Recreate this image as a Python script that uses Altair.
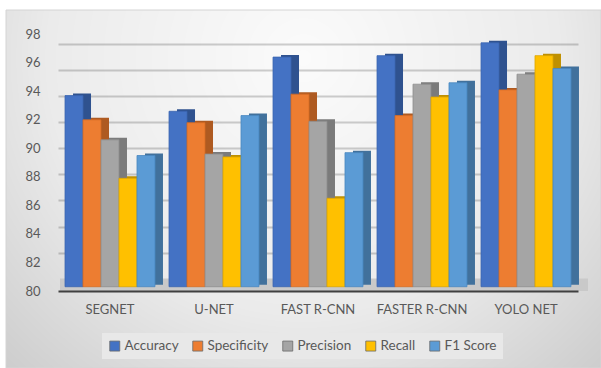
import altair as alt
import pandas as pd

# Models compared and the five evaluation metrics
models = ["SEGNET", "U-NET", "FAST R-CNN", "FASTER R-CNN", "YOLO NET"]
metrics = ["Accuracy", "Specificity", "Precision", "Recall", "F1 Score"]

# Scores (%) per metric, in the order of `models`
accuracy = [93.7, 92.6, 96.4, 96.5, 97.4]
specificity = [92.0, 91.8, 93.8, 92.3, 94.1]
precision = [90.6, 89.6, 91.9, 94.5, 95.2]
recall = [87.9, 89.4, 86.5, 93.6, 96.5]
f1_score = [89.5, 92.3, 89.7, 94.6, 95.6]

y_ticks = [80, 82, 84, 86, 88, 90, 92, 94, 96, 98]
grid_levels = [82, 84, 86, 88, 90, 92, 94, 96, 98]

face_colors = ["#4472C4", "#ED7D31", "#A5A5A5", "#FFC000", "#5B9BD5"]
edge_colors = ["#3A64B0", "#D56C24", "#8E8E8E", "#DDA600", "#4A88C0"]
side_colors = ["#2F528F", "#AE5A21", "#7B7B7B", "#BF9000", "#41719C"]

series = dict(zip(metrics, [accuracy, specificity, precision, recall, f1_score]))
side_of = dict(zip(metrics, side_colors))
edge_of = dict(zip(metrics, edge_colors))
rows = [
    {"model": m, "metric": k, "score": vals[i],
     "side": side_of[k], "edge": edge_of[k]}
    for k, vals in series.items()
    for i, m in enumerate(models)
]
df = pd.DataFrame(rows)

W, H = 520, 271
DEPTH_X, DEPTH_Y = 8, 2
BAR_BASE = 80.3          # columns stand a little behind the floor's front edge
FONT = "Lato"
TEXT = "#595959"
GRID = "#d0d0d0"

band = dict(paddingInner=0.135, paddingOuter=0.0675)
x_off = alt.XOffset("metric:N", sort=metrics)

# Chart-area shading: a translucent radial vignette over the white page
backdrop = alt.Chart(pd.DataFrame({"k": [0]})).mark_rect(
    fill={
        "gradient": "radial",
        "x1": 0.5, "y1": 0.28, "r1": 0.0,
        "x2": 0.5, "y2": 0.28, "r2": 0.78,
        "stops": [
            {"offset": 0.0, "color": "rgba(0,0,0,0.015)"},
            {"offset": 0.55, "color": "rgba(0,0,0,0.08)"},
            {"offset": 1.0, "color": "rgba(0,0,0,0.22)"},
        ],
    },
    stroke="#d4d4d4",
    strokeWidth=1,
).encode(
    x=alt.value(-52), x2=alt.value(543),
    y=alt.value(-10), y2=alt.value(348),
)

# Back wall: floor plus gridlines on a scale set slightly back in depth
back_domain = [79.04, 99.88]
floor = alt.Chart(pd.DataFrame({"lo": [79.04], "hi": [80]})).mark_rect(
    color="#c9c9c9"
).encode(
    x=alt.value(2), x2=alt.value(530),
    y=alt.Y(
        "hi:Q",
        scale=alt.Scale(domain=back_domain, nice=False, zero=False),
        axis=alt.Axis(
            orient="left", title=None, values=grid_levels, labels=False,
            ticks=False, domain=False, grid=True,
            gridColor=GRID, gridWidth=2,
        ),
    ),
    y2="lo:Q",
)

# Column side faces: same bars on scales shifted back-right by the depth
sides = alt.Chart(df).mark_bar().encode(
    x=alt.X("model:N", sort=models, axis=None,
            scale=alt.Scale(range=[DEPTH_X, W + DEPTH_X], **band)),
    xOffset=x_off,
    y=alt.Y("score:Q", axis=None,
            scale=alt.Scale(domain=[80, 99], nice=False, zero=False,
                            range=[H - DEPTH_Y, -DEPTH_Y])),
    y2=alt.datum(BAR_BASE),
    fill=alt.Fill("side:N", scale=None),
)

# Column front faces
fronts = alt.Chart(df).mark_bar(strokeWidth=0.8).encode(
    x=alt.X(
        "model:N", sort=models, scale=alt.Scale(**band),
        axis=alt.Axis(
            title=None, labelAngle=0, ticks=False, grid=False, zindex=2,
            domainColor="#404040", domainWidth=2.2,
            labelPadding=12, labelFontSize=13, labelFont=FONT, labelColor=TEXT,
        ),
    ),
    xOffset=x_off,
    y=alt.Y(
        "score:Q", scale=alt.Scale(domain=[80, 99], nice=False, zero=False),
        axis=alt.Axis(
            orient="left", title=None, values=y_ticks, domain=False,
            ticks=False, grid=False, zindex=2, labelPadding=18,
            labelFontSize=13, labelFont=FONT, labelColor=TEXT,
        ),
    ),
    y2=alt.datum(BAR_BASE),
    color=alt.Color(
        "metric:N", sort=metrics,
        scale=alt.Scale(domain=metrics, range=face_colors),
        legend=alt.Legend(
            title=None, orient="none", direction="horizontal",
            legendX=44, legendY=313, zindex=2,
            fillColor="#e8e8e8", padding=6,
            symbolType="square", symbolSize=100,
            symbolStrokeWidth=0.8, symbolStrokeColor="#6a6a6a",
            labelFont=FONT, labelFontSize=13.5, labelColor=TEXT,
            labelOffset=3, columnPadding=12,
        ),
    ),
    stroke=alt.Stroke("edge:N", scale=None),
)

chart = alt.layer(backdrop, floor, sides, fronts).resolve_scale(
    x="independent", y="independent"
).properties(
    width=W, height=H,
    autosize=alt.AutoSizeParams(type="none"),
    padding={"left": 58, "top": 20, "right": 23, "bottom": 77},
).configure(
    background="white",
).configure_view(
    stroke=None,
)

chart.save("out.html", embed_options={"renderer": "svg", "actions": False})
